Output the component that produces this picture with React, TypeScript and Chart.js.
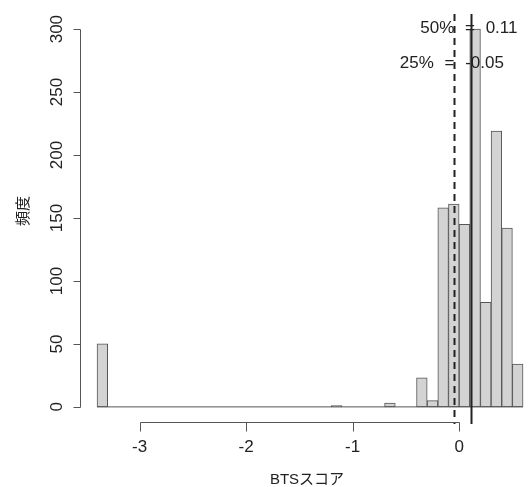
import React, { useEffect, useRef } from "react";
import { Chart, registerables } from "chart.js";

Chart.register(...registerables);

// Histogram bins (centres of 0.1-wide bins from -3.4 to 0.6)
const binCenters = [
  -3.35, -3.25, -3.15, -3.05, -2.95, -2.85, -2.75, -2.65, -2.55, -2.45,
  -2.35, -2.25, -2.15, -2.05, -1.95, -1.85, -1.75, -1.65, -1.55, -1.45,
  -1.35, -1.25, -1.15, -1.05, -0.95, -0.85, -0.75, -0.65, -0.55, -0.45,
  -0.35, -0.25, -0.15, -0.05, 0.05, 0.15, 0.25, 0.35, 0.45, 0.55,
];
const binCounts = [
  50, 0, 0, 0, 0, 0, 0, 0, 0, 0,
  0, 0, 0, 0, 0, 0, 0, 0, 0, 0,
  0, 0, 1, 0, 0, 0, 0, 3, 0, 0,
  23, 5, 158, 161, 145, 300, 83, 219, 142, 34,
];
const histRange = [-3.4, 0.6];
const xTicks = [-3, -2, -1, 0];
const yTicks = [0, 50, 100, 150, 200, 250, 300];
const xTickLabels = ["-3", "-2", "-1", "0"];
const yTickLabels = ["0", "50", "100", "150", "200", "250", "300"];
const xTitle = "BTSスコア";
const yTitle = "頻度";
const quantileValues = [0.11, -0.05];
const quantileLabels = ["50% = 0.11", "25% = -0.05"];
const quantileTextY = [301, 273];
const quantileDashed = [false, true];

const FONT = '"Liberation Sans", Arial, "Noto Sans CJK JP", sans-serif';
const TEXT = "#222";

const decorPlugin = {
  id: "rdecor",
  afterDatasetsDraw(chart: any) {
    const ctx = chart.ctx;
    const xs = chart.scales.x;
    const ys = chart.scales.y;
    const area = chart.chartArea;
    ctx.save();
    // quantile lines
    quantileValues.forEach((v, i) => {
      const px = Math.round(xs.getPixelForValue(v)) + 0.5;
      ctx.beginPath();
      ctx.strokeStyle = "#222";
      ctx.lineWidth = 2;
      ctx.setLineDash(quantileDashed[i] ? [7, 5] : []);
      ctx.moveTo(px, area.top);
      ctx.lineTo(px, area.bottom + 2);
      ctx.stroke();
    });
    ctx.setLineDash([]);
    // quantile texts
    ctx.font = "17px " + FONT;
    ctx.fillStyle = TEXT;
    ctx.textAlign = "center";
    ctx.textBaseline = "middle";
    (ctx as any).wordSpacing = "6px";
    quantileValues.forEach((v, i) => {
      ctx.fillText(quantileLabels[i], xs.getPixelForValue(v) - 2, ys.getPixelForValue(quantileTextY[i]));
    });
    (ctx as any).wordSpacing = "0px";

    // Y axis
    ctx.strokeStyle = "#555";
    ctx.lineWidth = 1;
    const ax = Math.round(area.left) + 0.5;
    ctx.beginPath();
    ctx.moveTo(ax, Math.round(ys.getPixelForValue(yTicks[0])) + 0.5);
    ctx.lineTo(ax, Math.round(ys.getPixelForValue(yTicks[yTicks.length - 1])) + 0.5);
    yTicks.forEach((t) => {
      const py = Math.round(ys.getPixelForValue(t)) + 0.5;
      ctx.moveTo(ax, py);
      ctx.lineTo(ax - 7, py);
    });
    ctx.stroke();
    yTicks.forEach((t, i) => {
      const py = ys.getPixelForValue(t);
      ctx.save();
      ctx.translate(ax - 23, py);
      ctx.rotate(-Math.PI / 2);
      ctx.fillText(yTickLabels[i], 0, 0);
      ctx.restore();
    });

    // X axis
    const ay = Math.round(area.bottom) + 0.5;
    ctx.beginPath();
    ctx.moveTo(Math.round(xs.getPixelForValue(xTicks[0])) + 0.5, ay);
    ctx.lineTo(Math.round(xs.getPixelForValue(xTicks[xTicks.length - 1])) + 0.5, ay);
    xTicks.forEach((t) => {
      const px = Math.round(xs.getPixelForValue(t)) + 0.5;
      ctx.moveTo(px, ay);
      ctx.lineTo(px, ay + 9);
    });
    ctx.stroke();
    xTicks.forEach((t, i) => {
      ctx.fillText(xTickLabels[i], xs.getPixelForValue(t), ay + 25);
    });

    // Titles
    ctx.font = "15px " + FONT;
    ctx.fillText(xTitle, 307, 480);
    ctx.save();
    ctx.translate(24, 211);
    ctx.rotate(-Math.PI / 2);
    ctx.fillText(yTitle, 0, 0);
    ctx.restore();
    ctx.restore();
  },
};

export default function App() {
  const ref = useRef<HTMLCanvasElement>(null);
  useEffect(() => {
    if (!ref.current) return;
    const chart = new Chart(ref.current, {
      type: "bar",
      data: {
        datasets: [
          {
            type: "bar",
            data: binCenters.map((c, i) => ({ x: c, y: binCounts[i] })),
            backgroundColor: "#d3d3d3",
            borderColor: "#555",
            borderWidth: 1,
            borderSkipped: false,
            barPercentage: 1,
            categoryPercentage: 1,
            order: 2,
          } as any,
          {
            type: "line",
            data: histRange.map((x) => ({ x, y: 0 })),
            borderColor: "#555",
            borderWidth: 1,
            pointRadius: 0,
            order: 1,
          } as any,
        ],
      },
      options: {
        animation: false,
        responsive: true,
        maintainAspectRatio: false,
        layout: { padding: { left: 80, top: 14, bottom: 65, right: 0 } },
        plugins: { legend: { display: false }, tooltip: { enabled: false } },
        scales: {
          x: { type: "linear", min: -3.56, max: 0.656, offset: false, display: false },
          y: { type: "linear", min: -12, max: 312, display: false },
        },
      },
      plugins: [decorPlugin],
    });
    return () => chart.destroy();
  }, []);
  return (
    <div style={{ position: "fixed", left: 0, top: 0, width: 529, height: 487, background: "#fff" }}>
      <canvas ref={ref} />
    </div>
  );
}
